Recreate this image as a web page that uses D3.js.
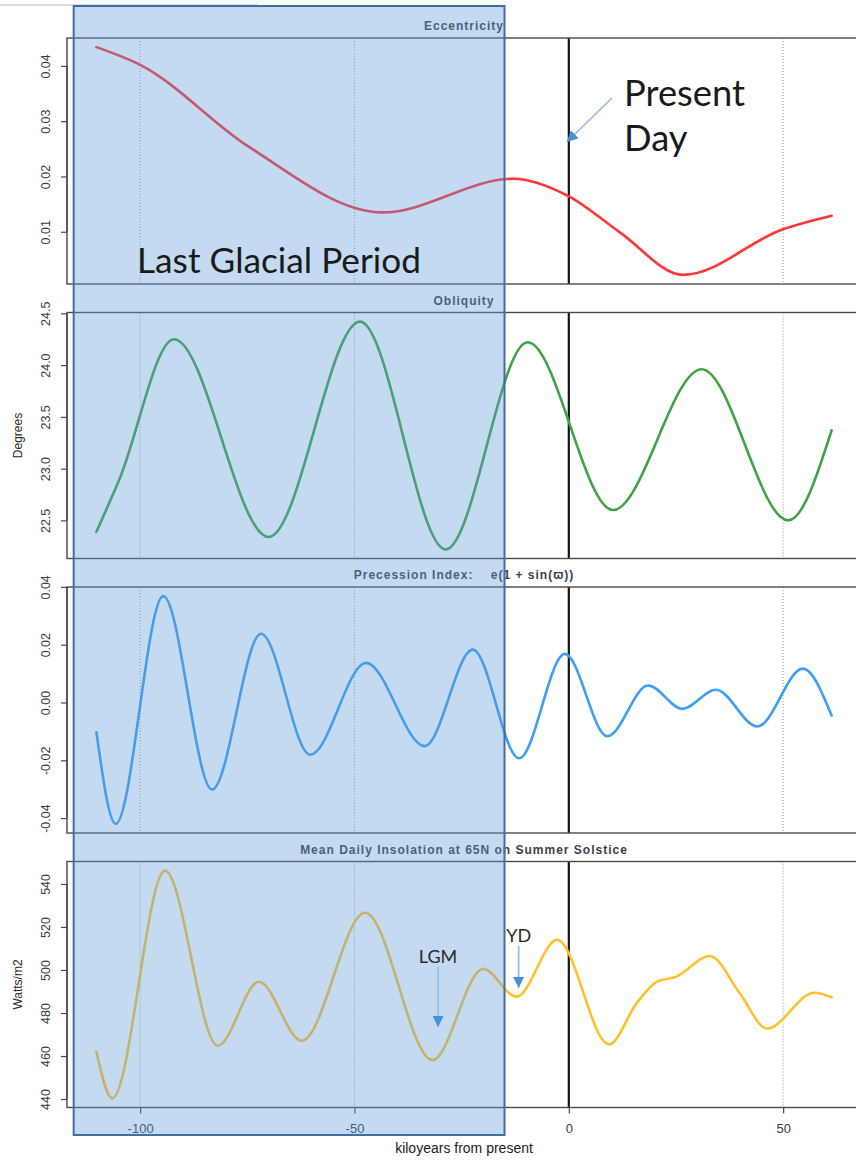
<!DOCTYPE html>
<html>
<head>
<meta charset="utf-8">
<script src="https://cdn.jsdelivr.net/npm/d3@7"></script>
<style>
  html, body { margin: 0; padding: 0; background: #fff; }
  svg { display: block; }
</style>
</head>
<body>
<div id="chart"></div>
<script>
// Orbital parameters, kiloyears relative to present (negative = past)
const eccYears = [-110.2, -100, -74.5, -43.4, -13.0, -0.2, 11.9, 26.7, 50.1, 61.3];
const eccentricity = [0.0434, 0.0402, 0.0253, 0.0135, 0.0196, 0.0165, 0.0099, 0.0022, 0.0105, 0.0129];

const oblYears = [-110.2, -104.9, -92.1, -70.0, -48.7, -28.7, -9.6, 10.3, 31.0, 51.2, 61.3];
const obliquity = [22.39, 22.89, 24.25, 22.34, 24.42, 22.22, 24.22, 22.60, 23.96, 22.50, 23.37];

const precYears = [-110.2, -105.7, -94.6, -83.2, -71.8, -60.3, -47.3, -33.6, -22.4, -11.6, -0.9, 9.0, 18.5, 26.5, 34.3, 44.0, 54.6, 61.3];
const precession = [-0.0103, -0.0420, 0.0368, -0.0301, 0.0238, -0.0181, 0.0137, -0.0151, 0.0183, -0.0193, 0.0168, -0.0117, 0.0059, -0.0022, 0.0044, -0.0083, 0.0117, -0.0045];

const insYears = [-110.2, -106.5, -94.2, -81.9, -72.3, -62.3, -47.5, -31.8, -20.0, -12.2, -2.7, 9.4, 15.8, 20.5, 25.1, 32.9, 39.9, 46.2, 57.3, 61.3];
const insolation = [462.0, 440.3, 546.2, 464.8, 494.5, 467.1, 526.6, 458.1, 500.5, 487.6, 514.0, 465.4, 484.5, 494.5, 496.9, 506.5, 489.1, 472.8, 489.4, 487.3];

// Tick values
const xTicks = [-100, -50, 0, 50];
const xGrid = [-100, -50, 50];
const eccTicks = [0.01, 0.02, 0.03, 0.04];
const oblTicks = [22.5, 23.0, 23.5, 24.0, 24.5];
const precTicks = [-0.04, -0.02, 0.00, 0.02, 0.04];
const insTicks = [440, 460, 480, 500, 520, 540];

// Panel titles and axis labels
const titles = ["Eccentricity", "Obliquity", "Precession Index:    e(1 + sin(\u03D6))", "Mean Daily Insolation at 65N on Summer Solstice"];
const yLabels = [null, "Degrees", null, "Watts/m2"];
const xLabel = "kiloyears from present";

// Glacial period span and event markers (arrow tips in W/m2)
const glacialSpan = [-115.5, -15];
const eventLGM = { label: "LGM", year: -30.5, value: 471.6 };
const eventYD = { label: "YD", year: -11.7, value: 489.8 };
const presentYear = 0;

const W = 856, H = 1161;
const left = 67, right = 861;
const top0 = 38, step = 274.5, ph = 246;

const svg = d3.select("#chart").append("svg")
  .attr("width", W).attr("height", H)
  .style("font-family", "'Liberation Sans', Arial, Helvetica, sans-serif");

svg.append("rect").attr("width", W).attr("height", H).attr("fill", "#fff");

// faint rule at the top edge
svg.append("line").attr("x1", 0).attr("x2", 258).attr("y1", 5).attr("y2", 5)
  .attr("stroke", "#dcdcdc").attr("stroke-width", 2);

// shared x scale (R-style 4% padding on the data extent)
const allYears = eccYears.concat(oblYears, precYears, insYears);
const xExt = d3.extent(allYears);
const xPad = (xExt[1] - xExt[0]) * 0.04;
const x = d3.scaleLinear().domain([xExt[0] - xPad, xExt[1] + xPad]).range([left, right]);

const fmt2 = d => d.toFixed(2);
const fmt1 = d => d.toFixed(1);
const fmt0 = d => String(d);

const panels = [
  { years: eccYears, values: eccentricity, ticks: eccTicks, fmt: fmt2, color: "#ff3535" },
  { years: oblYears, values: obliquity, ticks: oblTicks, fmt: fmt1, color: "#3fa343" },
  { years: precYears, values: precession, ticks: precTicks, fmt: fmt2, color: "#3d9ef2" },
  { years: insYears, values: insolation, ticks: insTicks, fmt: fmt0, color: "#ffc22e" }
];

const yScales = [];

panels.forEach((p, i) => {
  const top = top0 + i * step;
  const bottom = top + ph;
  const ext = d3.extent(p.values);
  const pad = (ext[1] - ext[0]) * 0.04;
  const y = d3.scaleLinear().domain([ext[0] - pad, ext[1] + pad]).range([bottom, top]);
  yScales.push(y);

  const g = svg.append("g");

  // title strip
  g.append("text")
    .attr("x", (left + right) / 2).attr("y", top - 12).attr("dy", "0.35em")
    .attr("text-anchor", "middle")
    .attr("font-size", 12).attr("font-weight", "bold").attr("fill", "#3a3f48")
    .attr("letter-spacing", 1.0)
    .style("white-space", "pre")
    .text(titles[i]);

  // dotted reference lines
  g.selectAll(".grid").data(xGrid).enter().append("line")
    .attr("x1", d => x(d)).attr("x2", d => x(d))
    .attr("y1", top).attr("y2", bottom)
    .attr("stroke", "#9a9a9a").attr("stroke-width", 1).attr("stroke-dasharray", "1,2");

  // present day
  g.append("line")
    .attr("x1", x(presentYear)).attr("x2", x(presentYear))
    .attr("y1", top).attr("y2", bottom)
    .attr("stroke", "#151515").attr("stroke-width", 2.2);

  // series
  const line = d3.line()
    .x((d, k) => x(p.years[k]))
    .y(d => y(d))
    .curve(d3.curveMonotoneX);
  g.append("path")
    .attr("d", line(p.values))
    .attr("fill", "none").attr("stroke", p.color)
    .attr("stroke-width", 2.6).attr("stroke-linejoin", "round").attr("stroke-linecap", "round");

  // frame
  g.append("rect")
    .attr("x", left).attr("y", top).attr("width", right - left).attr("height", ph)
    .attr("fill", "none").attr("stroke", "#4a4a4a").attr("stroke-width", 1.4);

  // y axis
  const ya = g.append("g").attr("transform", `translate(${left},0)`)
    .call(d3.axisLeft(y).tickValues(p.ticks).tickSize(6).tickFormat(p.fmt));
  ya.select(".domain").remove();
  ya.selectAll(".tick line").attr("stroke", "#4a4a4a").attr("stroke-width", 1.2);
  ya.selectAll(".tick text")
    .attr("x", 0).attr("y", 0).attr("dy", "0.36em")
    .attr("transform", "translate(-22,0) rotate(-90)")
    .attr("text-anchor", "middle")
    .attr("font-size", 12.5).attr("fill", "#3a3a3a")
    .attr("font-family", "'Liberation Sans', Arial, sans-serif");
  ya.append("line")
    .attr("x1", 0).attr("x2", 0)
    .attr("y1", y(p.ticks[0])).attr("y2", y(p.ticks[p.ticks.length - 1]))
    .attr("stroke", "#4a4a4a").attr("stroke-width", 1.4);

  if (yLabels[i]) {
    g.append("text")
      .attr("transform", `translate(18,${(top + bottom) / 2}) rotate(-90)`)
      .attr("text-anchor", "middle").attr("dy", "0.35em")
      .attr("font-size", 12).attr("fill", "#2a2a2a")
      .text(yLabels[i]);
  }

  // x axis under the last panel
  if (i === panels.length - 1) {
    const xa = g.append("g").attr("transform", `translate(0,${bottom})`)
      .call(d3.axisBottom(x).tickValues(xTicks).tickSize(6).tickFormat(fmt0));
    xa.select(".domain").remove();
    xa.selectAll(".tick line").attr("stroke", "#4a4a4a").attr("stroke-width", 1.2);
    xa.selectAll(".tick text")
      .attr("y", 21).attr("dy", "0.35em")
      .attr("font-size", 13).attr("fill", "#3a3a3a")
      .attr("font-family", "'Liberation Sans', Arial, sans-serif");
    g.append("text")
      .attr("x", (left + right) / 2).attr("y", bottom + 41).attr("dy", "0.35em")
      .attr("text-anchor", "middle")
      .attr("font-size", 14).attr("fill", "#222")
      .text(xLabel);
  }
});

// glacial period overlay
const overlayTop = 6, overlayBottom = 1135;
svg.append("rect")
  .attr("x", x(glacialSpan[0])).attr("y", overlayTop)
  .attr("width", x(glacialSpan[1]) - x(glacialSpan[0]))
  .attr("height", overlayBottom - overlayTop)
  .attr("fill", "#5b9bd5").attr("fill-opacity", 0.37)
  .attr("stroke", "#3f6f9f").attr("stroke-width", 2);

// arrowheads
const defs = svg.append("defs");
defs.append("marker")
  .attr("id", "head").attr("viewBox", "0 0 10 10")
  .attr("refX", 10).attr("refY", 5)
  .attr("markerUnits", "userSpaceOnUse")
  .attr("markerWidth", 11).attr("markerHeight", 11)
  .attr("orient", "auto")
  .append("path").attr("d", "M0,0 L10,5 L0,10 Z").attr("fill", "#4a8fd6");

const annoFont = "Lato, 'Open Sans', sans-serif";

function fitWidth(sel, w) {
  const node = sel.node();
  const size = parseFloat(sel.attr("font-size"));
  const cur = node.getComputedTextLength();
  sel.attr("font-size", size * w / cur);
}

// "Last Glacial Period"
const lgp = svg.append("text")
  .attr("x", 137).attr("y", 273)
  .attr("font-family", annoFont).attr("font-size", 34).attr("fill", "#1a1a1a")
  .text("Last Glacial Period");
fitWidth(lgp, 284);

// "Present Day"
const pd1 = svg.append("text").attr("x", 624).attr("y", 106)
  .attr("font-family", annoFont).attr("font-size", 34).attr("fill", "#1a1a1a")
  .text("Present");
fitWidth(pd1, 121);
svg.append("text").attr("x", 624).attr("y", 151)
  .attr("font-family", annoFont).attr("font-size", pd1.attr("font-size")).attr("fill", "#1a1a1a")
  .text("Day");

svg.append("line")
  .attr("x1", 612).attr("y1", 98)
  .attr("x2", x(presentYear) - 2).attr("y2", 142)
  .attr("stroke", "#8fbbe6").attr("stroke-width", 1.6)
  .attr("marker-end", "url(#head)");

// event markers on the insolation panel
const insY = yScales[3];
[[eventLGM, 18, 957], [eventYD, 18, 936]].forEach(([ev, fs, labY]) => {
  const ex = x(ev.year);
  const tipY = insY(ev.value) - 4;
  svg.append("text")
    .attr("x", ex).attr("y", labY).attr("dy", "0.35em")
    .attr("text-anchor", "middle")
    .attr("font-family", annoFont).attr("font-size", fs).attr("fill", "#2a2a2a")
    .text(ev.label);
  svg.append("line")
    .attr("x1", ex).attr("x2", ex)
    .attr("y1", labY + 10).attr("y2", tipY)
    .attr("stroke", "#8fbbe6").attr("stroke-width", 1.6)
    .attr("marker-end", "url(#head)");
});
</script>
</body>
</html>
